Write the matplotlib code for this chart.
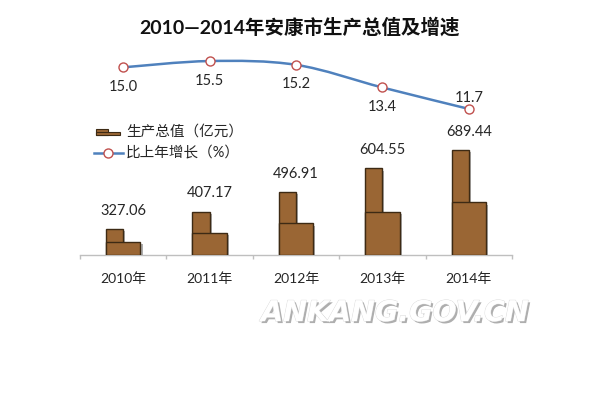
from matplotlib import pyplot as plt
from matplotlib.path import Path
from matplotlib.patches import PathPatch, Rectangle
from matplotlib.lines import Line2D
import matplotlib.patheffects as pe
import numpy as np

plt.rcParams['font.family'] = ['Lato', 'Noto Sans CJK SC', 'DejaVu Sans']

# data
years = ['2010年', '2011年', '2012年', '2013年', '2014年']
gdp = [327.06, 407.17, 496.91, 604.55, 689.44]
growth = [15.0, 15.5, 15.2, 13.4, 11.7]
title = '2010—2014年安康市生产总值及增速'
legend_labels = ['生产总值（亿元）', '比上年增长（%）']

BAR_FILL = '#9a6634'
BAR_EDGE = '#3d2a14'
LINE_COLOR = '#4f81bd'
MARKER_EDGE = '#c0504d'

fig = plt.figure(figsize=(6, 4), dpi=100)
W, H = 600, 400


def px_axes(x0, y0, x1, y1):
    # axes from pixel box (top-left origin)
    return fig.add_axes([x0 / W, 1 - y1 / H, (x1 - x0) / W, (y1 - y0) / H])


x = np.arange(len(years))

# bars (pictograph: tall narrow block + wide half-height block)
ax = px_axes(80, 135, 512, 255)
ymin = 208
ax.set_xlim(-0.5, 4.5)
ax.set_ylim(ymin, 758)
w = 0.4
vals = np.array(gdp)
shadow = [pe.SimplePatchShadow(offset=(1.5, -1.5), shadow_rgbFace='#777777', alpha=0.6), pe.Normal()]
tall = ax.bar(x - w / 4, vals - ymin, bottom=ymin, width=w / 2, color=BAR_FILL,
              edgecolor=BAR_EDGE, linewidth=1, zorder=2)
wide = ax.bar(x, (vals - ymin) / 2, bottom=ymin, width=w, color=BAR_FILL,
              edgecolor=BAR_EDGE, linewidth=1, zorder=3)
for b in list(tall) + list(wide):
    b.set_path_effects(shadow)
for xi, v in zip(x, gdp):
    ax.annotate(f'{v:.2f}', (xi, v), xytext=(0, 8), textcoords='offset points',
                ha='center', va='bottom', fontsize=10.5, color='#262626')

for s in ['top', 'right', 'left']:
    ax.spines[s].set_visible(False)
ax.spines['bottom'].set_color('#bfbfbf')
ax.spines['bottom'].set_linewidth(1)
ax.set_yticks([])
ax.set_xticks(x)
ax.set_xticklabels(years, fontsize=10, color='#262626')
ax.tick_params(axis='x', which='major', length=0, pad=12.5)
ax.set_xticks(np.arange(-0.5, 5, 1), minor=True)
ax.tick_params(axis='x', which='minor', length=3, color='#bfbfbf', width=1)
ax.patch.set_alpha(0)

# growth line, smoothed with cubic bezier segments through the data points
ax2 = px_axes(80, 40, 512, 120)
ax2.set_xlim(-0.5, 4.5)
ax2.set_ylim(10.82, 17.17)
ax2.axis('off')
pts = np.column_stack([x, growth]).astype(float)
ext = np.vstack([pts[0], pts, pts[-1]])
verts = [pts[0]]
codes = [Path.MOVETO]
for i in range(len(pts) - 1):
    p0, p1, p2, p3 = ext[i], ext[i + 1], ext[i + 2], ext[i + 3]
    verts += [p1 + (p2 - p0) / 6, p2 - (p3 - p1) / 6, p2]
    codes += [Path.CURVE4] * 3
ax2.add_patch(PathPatch(Path(verts, codes), fill=False, edgecolor=LINE_COLOR, linewidth=1.8, zorder=2))
ax2.plot(x, growth, linestyle='none', marker='o', markersize=6.5, markerfacecolor='white',
         markeredgecolor=MARKER_EDGE, markeredgewidth=1, zorder=3, clip_on=False)
for i, (xi, g) in enumerate(zip(x, growth)):
    dy = 2.5 if i == len(growth) - 1 else -9
    ax2.annotate(f'{g:.1f}', (xi, g), xytext=(0, dy), textcoords='offset points',
                 ha='center', va='bottom' if dy > 0 else 'top', fontsize=10.5, color='#262626')

# legend
leg = fig.add_axes([0, 0, 1, 1])
leg.set_xlim(0, W)
leg.set_ylim(H, 0)
leg.axis('off')
leg.add_patch(Rectangle((96, 129), 12, 6, facecolor=BAR_FILL, edgecolor=BAR_EDGE, linewidth=0.8))
leg.add_patch(Rectangle((96, 132), 24, 3, facecolor=BAR_FILL, edgecolor=BAR_EDGE, linewidth=0.8))
leg.add_line(Line2D([94, 123], [153, 153], color=LINE_COLOR, linewidth=1.8))
leg.plot([108], [153], marker='o', markersize=6.5, markerfacecolor='white',
         markeredgecolor=MARKER_EDGE, markeredgewidth=1)
leg.text(126, 132, legend_labels[0], fontsize=10.5, va='center', ha='left', color='#262626')
leg.text(126, 153, legend_labels[1], fontsize=10.5, va='center', ha='left', color='#262626')

# title and watermark
fig.text(0.5, 1 - 27 / H, title, ha='center', va='center', fontsize=14,
         fontweight='bold', color='#111111')
fig.text(395 / W, 1 - 313 / H, 'ANKANG.GOV.CN', ha='center', va='center', fontsize=20.5,
         fontweight='bold', style='italic', color='white', family='DejaVu Sans',
         path_effects=[pe.SimplePatchShadow(offset=(1.5, -1.5), shadow_rgbFace='#9a9a9a', alpha=0.8),
                       pe.Stroke(linewidth=0.6, foreground='#d8d8d8'), pe.Normal()])

fig.savefig('out.png', dpi=100)
